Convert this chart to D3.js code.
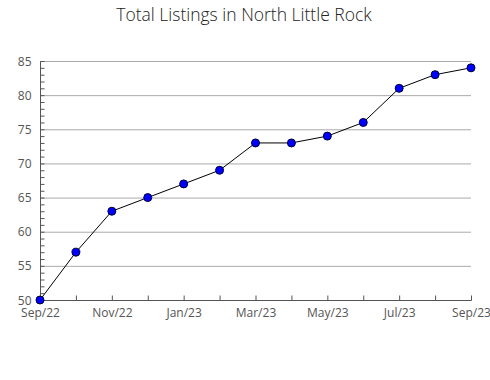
<!DOCTYPE html>
<html>
<head>
<meta charset="utf-8">
<script src="https://cdn.jsdelivr.net/npm/d3@7"></script>
<style>
body{margin:0;background:#fff;}
text{font-family:"Open Sans",sans-serif;}
</style>
</head>
<body>
<div id="graph"></div>
<script>
// data
var months=["Sep/22","Oct/22","Nov/22","Dec/22","Jan/23","Feb/23","Mar/23","Apr/23","May/23","Jun/23","Jul/23","Aug/23","Sep/23"];
var listings=[50,57,63,65,67,69,73,73,74,76,81,83,84];
var yTicks=[50,55,60,65,70,75,80,85];

var width=490, height=380;
var padLeft=40, padRight=471, padTop=61, padBottom=300;

var svg=d3.select("#graph").append("svg").attr("width",width).attr("height",height);

var x=d3.scalePoint().domain(months).range([padLeft,padRight]);
var y=d3.scaleLinear().domain([50,85]).range([padBottom,padTop]);

// title
svg.append("text").text("Total Listings in North Little Rock")
	.attr("x",244).attr("y",21).attr("text-anchor","middle")
	.attr("font-size",17.5).attr("font-weight",300).attr("fill","#222");

// grid
svg.append("g").selectAll("line").data(yTicks).enter().append("line")
	.attr("x1",padLeft).attr("x2",padRight)
	.attr("y1",function(d){return y(d)+0.5}).attr("y2",function(d){return y(d)+0.5})
	.attr("stroke","#aaa").attr("stroke-width",1);

// y axis w/ minor ticks inside
var yAxis=svg.append("g").attr("transform","translate("+(padLeft+0.5)+",0.5)");
yAxis.append("line").attr("y1",padTop).attr("y2",padBottom).attr("stroke","#555");
yAxis.selectAll(".minor").data(d3.range(50,86)).enter().append("line")
	.attr("x1",0).attr("x2",4)
	.attr("y1",function(d){return y(d)}).attr("y2",function(d){return y(d)})
	.attr("stroke","#555");
yAxis.selectAll("text").data(yTicks).enter().append("text")
	.text(function(d){return d})
	.attr("x",-9).attr("y",function(d){return y(d)+4})
	.attr("text-anchor","end").attr("font-size",12).attr("fill","#555");

// x axis
var xAxis=svg.append("g").attr("transform","translate(0.5,"+(padBottom+0.5)+")");
xAxis.append("line").attr("x1",padLeft).attr("x2",padRight).attr("stroke","#555");
xAxis.selectAll(".tick").data(months).enter().append("line")
	.attr("x1",function(d){return x(d)}).attr("x2",function(d){return x(d)})
	.attr("y1",0).attr("y2",-5).attr("stroke","#555");
xAxis.selectAll("text").data(months.filter(function(d,i){return i%2==0})).enter().append("text")
	.text(function(d){return d})
	.attr("x",function(d){return x(d)}).attr("y",16)
	.attr("text-anchor","middle").attr("font-size",12).attr("fill","#555");

// line
var line=d3.line().x(function(d,i){return x(months[i])}).y(function(d){return y(d)});
svg.append("path").datum(listings).attr("d",line)
	.attr("fill","none").attr("stroke","#000").attr("stroke-width",1);

svg.append("g").selectAll("circle").data(listings).enter().append("circle")
	.attr("cx",function(d,i){return x(months[i])}).attr("cy",function(d){return y(d)})
	.attr("r",4).attr("fill","#0000ff").attr("stroke","#000033").attr("stroke-width",1);
</script>
</body>
</html>
